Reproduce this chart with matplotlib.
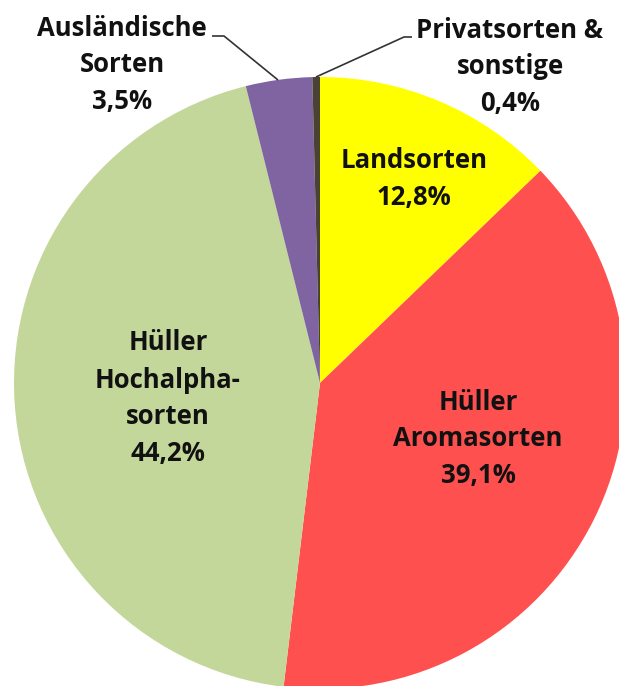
import matplotlib
matplotlib.use("Agg")
import matplotlib.pyplot as plt

categories = ["Landsorten", "Hüller Aromasorten", "Hüller Hochalphasorten",
              "Ausländische Sorten", "Privatsorten & sonstige"]
values = [12.8, 39.1, 44.2, 3.5, 0.4]
value_labels = ["12,8%", "39,1%", "44,2%", "3,5%", "0,4%"]
colors = ["#FFFF00", "#FF5050", "#C4D79B", "#8064A2", "#4A4232"]
label_lines = [
    ["Landsorten"],
    ["Hüller", "Aromasorten"],
    ["Hüller", "Hochalpha-", "sorten"],
    ["Ausländische", "Sorten"],
    ["Privatsorten &", "sonstige"],
]

W, H = 619, 686
fig = plt.figure(figsize=(W / 100, H / 100), dpi=100)
ax = fig.add_axes([0, 0, 1, 1])

cx, cy_px, R = 320, 383, 306
cy = H - cy_px
wedges, _ = ax.pie(values, colors=colors, startangle=90, counterclock=False,
                   radius=R, center=(cx, cy), frame=True,
                   wedgeprops=dict(linewidth=0))
ax.set_xlim(0, W)
ax.set_ylim(0, H)
ax.set_aspect("equal")
ax.axis("off")

# label anchors (x centre, y of first line in pixels from top), line step
anchors = [(414, 160), (478, 402), (168, 343), (122, 28), (510, 30)]
step = 37
font = dict(family=["Open Sans", "DejaVu Sans"], fontweight="bold",
            fontsize=18.5, color="#111111", ha="center", va="center")
for lines, vlab, (x, y0) in zip(label_lines, value_labels, anchors):
    for i, t in enumerate(lines + [vlab]):
        ax.text(x, H - (y0 + i * step), t, **font)

# leader lines
ax.plot([212, 224, 278], [H - 36, H - 36, H - 80], color="#333333", lw=1.2,
        solid_capstyle="butt")
ax.plot([316, 404, 412], [H - 77, H - 37, H - 37], color="#333333", lw=1.2,
        solid_capstyle="butt")

fig.savefig("out.png", dpi=100)
